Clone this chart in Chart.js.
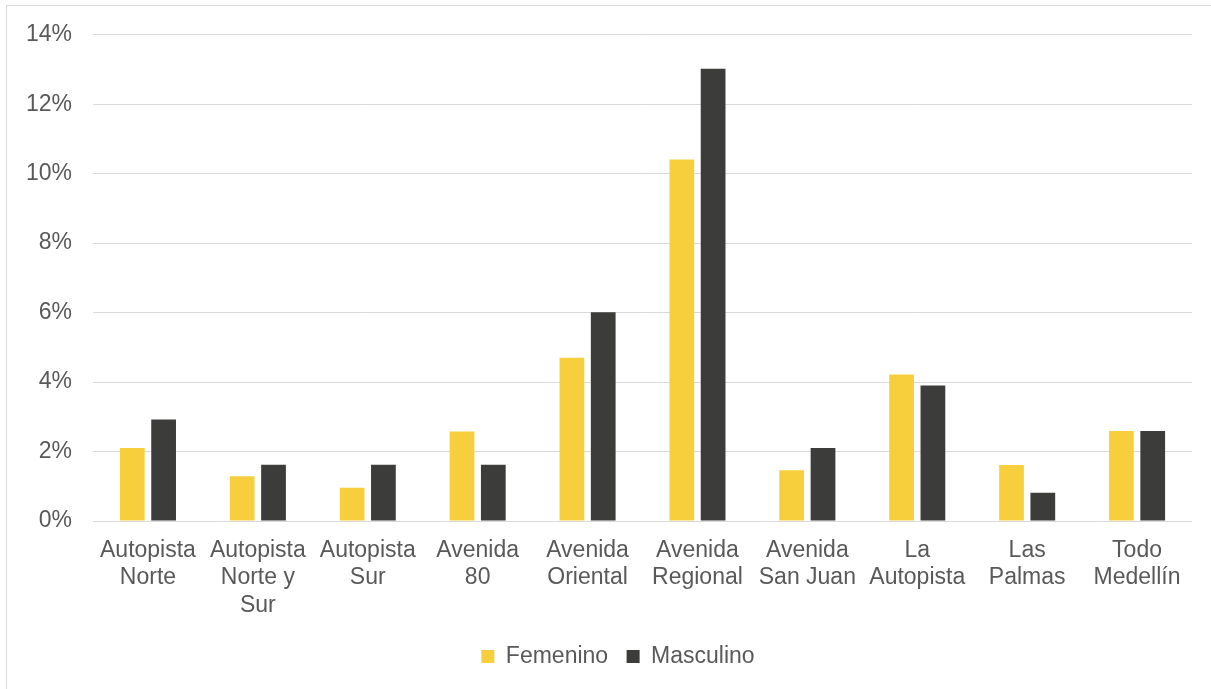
<!DOCTYPE html>
<html>
<head>
<meta charset="utf-8">
<script src="https://cdn.jsdelivr.net/npm/chart.js@4"></script>
<style>
  html, body { margin: 0; padding: 0; background: #ffffff; }
  #wrap { position: relative; width: 1211px; height: 689px; overflow: hidden; }
  #frame { position: absolute; left: 6px; top: 5px; width: 1230px; height: 720px;
           border-left: 1px solid #d9d9d9; border-top: 1px solid #d9d9d9; box-sizing: border-box; }
  canvas { position: absolute; left: 0; top: 0; }
</style>
</head>
<body>
<div id="wrap">
  <div id="frame"></div>
  <canvas id="chart" width="1211" height="689"></canvas>
</div>
<script>
// Corredores viales y porcentaje por sexo
const categories = [
  ['Autopista', 'Norte'],
  ['Autopista', 'Norte y', 'Sur'],
  ['Autopista', 'Sur'],
  ['Avenida', '80'],
  ['Avenida', 'Oriental'],
  ['Avenida', 'Regional'],
  ['Avenida', 'San Juan'],
  ['La', 'Autopista'],
  ['Las', 'Palmas'],
  ['Todo', 'Medellín']
];
const femenino = [2.1, 1.29, 0.96, 2.58, 4.7, 10.41, 1.46, 4.22, 1.61, 2.59];
const masculino = [2.92, 1.62, 1.62, 1.62, 6.01, 13.02, 2.1, 3.9, 0.81, 2.59];
const seriesNames = ['Femenino', 'Masculino'];
const yTicks = { min: 0, max: 14, step: 2 };

const FONT = { family: '"Liberation Sans", Arial, sans-serif', size: 23, lineHeight: 1.19 };
const TEXT = '#595959';
const GRID = '#d9d9d9';

// Nudge the legend row a little to the right of the canvas centre
const legendShift = {
  id: 'legendShift',
  afterLayout(chart) {
    const lg = chart.legend;
    if (lg) { lg.left += 22; lg.right += 22; }
  }
};

new Chart(document.getElementById('chart'), {
  type: 'bar',
  data: {
    labels: categories,
    datasets: [
      { label: seriesNames[0], data: femenino, backgroundColor: '#F7CF3D', borderWidth: 0 },
      { label: seriesNames[1], data: masculino, backgroundColor: '#3C3C3B', borderWidth: 0 }
    ]
  },
  plugins: [legendShift],
  options: {
    responsive: false,
    animation: false,
    devicePixelRatio: 1,
    categoryPercentage: 0.57,
    barPercentage: 0.79,
    layout: { padding: { left: 0, right: 19, top: 34, bottom: 11 } },
    plugins: {
      tooltip: { enabled: false },
      legend: {
        position: 'bottom',
        align: 'center',
        labels: {
          boxWidth: 13,
          boxHeight: 13,
          padding: 18.5,
          color: TEXT,
          font: FONT
        }
      }
    },
    scales: {
      x: {
        grid: { display: false, drawTicks: false },
        border: { display: false },
        ticks: {
          color: TEXT,
          font: FONT,
          padding: 16,
          autoSkip: false,
          maxRotation: 0,
          minRotation: 0
        },
        afterFit: (scale) => { scale.height = 105.5; }
      },
      y: {
        min: yTicks.min,
        max: yTicks.max,
        grid: { color: GRID, lineWidth: 1, drawTicks: false },
        border: { display: false },
        ticks: {
          stepSize: yTicks.step,
          color: TEXT,
          font: FONT,
          padding: 21,
          callback: (v) => v + '%'
        },
        afterFit: (scale) => { scale.width = 93; }
      }
    }
  }
});
</script>
</body>
</html>
